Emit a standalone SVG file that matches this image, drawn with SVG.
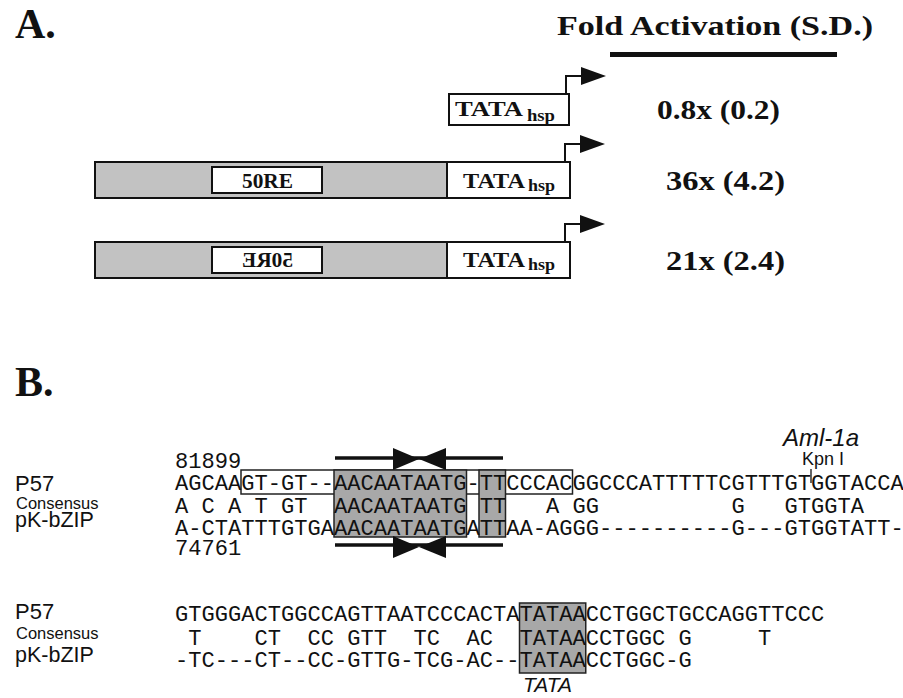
<svg xmlns="http://www.w3.org/2000/svg" width="903" height="698" viewBox="0 0 903 698">
<style>
.hd{font-family:"Liberation Serif",serif;font-weight:bold;fill:#111}
.num{font-family:"Liberation Serif",serif;font-weight:bold;font-size:28px;fill:#111}
.bx{font-family:"Liberation Serif",serif;font-weight:bold;font-size:21px;fill:#111}
.sub{font-family:"Liberation Serif",serif;font-weight:bold;font-size:16px;fill:#111}
.seq{font-family:"Liberation Mono",monospace;font-size:22.08px;fill:#111}
.lab{font-family:"Liberation Sans",Arial,sans-serif;fill:#111}
.frame{fill:#c2c2c2;stroke:#111;stroke-width:2}
.wbox{fill:#fff;stroke:#111;stroke-width:2}
.gbox{fill:#a8a8a8;stroke:#222;stroke-width:1.5}
.obox{fill:none;stroke:#222;stroke-width:1.5}
.ln{stroke:#111;fill:none}
</style>
<defs>
<g id="prom">
<path d="M0,0 V-18 H16" class="ln" stroke-width="2"/>
<polygon points="15,-27 40,-18 15,-9" fill="#111"/>
</g>
</defs>

<g id="panelA">
<text class="hd" x="15" y="38" font-size="42">A.</text>
<g id="header">
<text class="hd" x="557" y="35" font-size="28" textLength="316" lengthAdjust="spacingAndGlyphs">Fold Activation (S.D.)</text>
<line x1="610" y1="54.5" x2="837" y2="54.5" stroke="#111" stroke-width="5"/>
</g>
<g id="row1">
<rect class="wbox" x="449" y="94" width="120" height="31"/>
<text class="bx" x="455" y="116" textLength="68" lengthAdjust="spacingAndGlyphs">TATA</text>
<text class="sub" x="527" y="121" textLength="28" lengthAdjust="spacingAndGlyphs">hsp</text>
<text class="num" x="657" y="119" textLength="123" lengthAdjust="spacingAndGlyphs">0.8x (0.2)</text>
</g>
<g id="row2">
<rect class="frame" x="95" y="162" width="352" height="36"/>
<rect class="wbox" x="212" y="167" width="110" height="26"/>
<text class="bx" x="242" y="188" textLength="51" lengthAdjust="spacingAndGlyphs">50RE</text>
<rect class="wbox" x="447" y="162" width="123" height="36"/>
<text class="bx" x="463" y="188" textLength="62" lengthAdjust="spacingAndGlyphs">TATA</text>
<text class="sub" x="528" y="191" textLength="27" lengthAdjust="spacingAndGlyphs">hsp</text>
<text class="num" x="666" y="190" textLength="119" lengthAdjust="spacingAndGlyphs">36x (4.2)</text>
</g>
<g id="row3">
<rect class="frame" x="95" y="242" width="352" height="36"/>
<rect class="wbox" x="212" y="247" width="110" height="26"/>
<text class="bx" x="-293" y="267" transform="scale(-1,1)" textLength="51" lengthAdjust="spacingAndGlyphs">50RE</text>
<rect class="wbox" x="447" y="242" width="123" height="36"/>
<text class="bx" x="463" y="267" textLength="62" lengthAdjust="spacingAndGlyphs">TATA</text>
<text class="sub" x="528" y="270" textLength="27" lengthAdjust="spacingAndGlyphs">hsp</text>
<text class="num" x="666" y="270" textLength="119" lengthAdjust="spacingAndGlyphs">21x (2.4)</text>
</g>
</g>

<g id="connectors">
<use href="#prom" x="566" y="94"/>
<use href="#prom" x="565" y="162"/>
<use href="#prom" x="565" y="242"/>
</g>

<g id="panelB">
<text class="hd" x="15" y="396" font-size="42">B.</text>

<g id="block1">
<rect class="obox" x="241" y="470" width="331.5" height="24" fill="#fff"/>
<rect class="gbox" x="334" y="470" width="132.5" height="67"/>
<rect class="gbox" x="479" y="470" width="26.5" height="67"/>
<g id="motif-top">
<line x1="335" y1="458" x2="503" y2="458" stroke="#111" stroke-width="3.5"/>
<polygon points="393,448 393,470 419,459" fill="#111"/>
<polygon points="446,448 446,470 419,459" fill="#111"/>
</g>
<g id="motif-bottom">
<line x1="335" y1="545" x2="503" y2="545" stroke="#111" stroke-width="3.5"/>
<polygon points="393,536 393,558 419,547" fill="#111"/>
<polygon points="446,536 446,558 419,547" fill="#111"/>
</g>
<text class="lab" x="15" y="491" font-size="22">P57</text>
<text class="lab" x="16" y="509" font-size="16.5">Consensus</text>
<text class="lab" x="15" y="527" font-size="21.5">pK-bZIP</text>
<text class="seq" x="175" y="468">81899</text>
<text class="seq" x="175" y="490" xml:space="preserve">AGCAAGT-GT--AACAATAATG-TTCCCACGGCCCATTTTTCGTTTGTGGTACCA</text>
<text class="seq" x="175" y="513" xml:space="preserve">A C A T GT  AACAATAATG TT   A GG          G   GTGGTA</text>
<text class="seq" x="175" y="535" xml:space="preserve">A-CTATTTGTGAAACAATAATGATTAA-AGGG----------G---GTGGTATT-</text>
<text class="seq" x="175" y="555">74761</text>
<g id="kpn">
<text class="lab" x="783" y="446" font-size="24" font-style="italic">Aml-1a</text>
<text class="lab" x="802" y="465" font-size="18">Kpn I</text>
<line x1="811" y1="469" x2="811" y2="483" stroke="#111" stroke-width="1.3"/>
</g>
</g>

<g id="block2">
<rect class="gbox" x="519.5" y="603" width="66.25" height="70"/>
<text class="lab" x="15" y="619" font-size="22">P57</text>
<text class="lab" x="16" y="639" font-size="16.5">Consensus</text>
<text class="lab" x="15" y="662" font-size="21.5">pK-bZIP</text>
<text class="seq" x="175" y="621" xml:space="preserve">GTGGGACTGGCCAGTTAATCCCACTATATAACCTGGCTGCCAGGTTCCC</text>
<text class="seq" x="175" y="645" xml:space="preserve"> T    CT  CC GTT  TC  AC  TATAACCTGGC G     T</text>
<text class="seq" x="175" y="667" xml:space="preserve">-TC---CT--CC-GTTG-TCG-AC--TATAACCTGGC-G</text>
<text class="lab" x="523" y="692" font-size="21" font-style="italic">TATA</text>
</g>
</g>
</svg>
